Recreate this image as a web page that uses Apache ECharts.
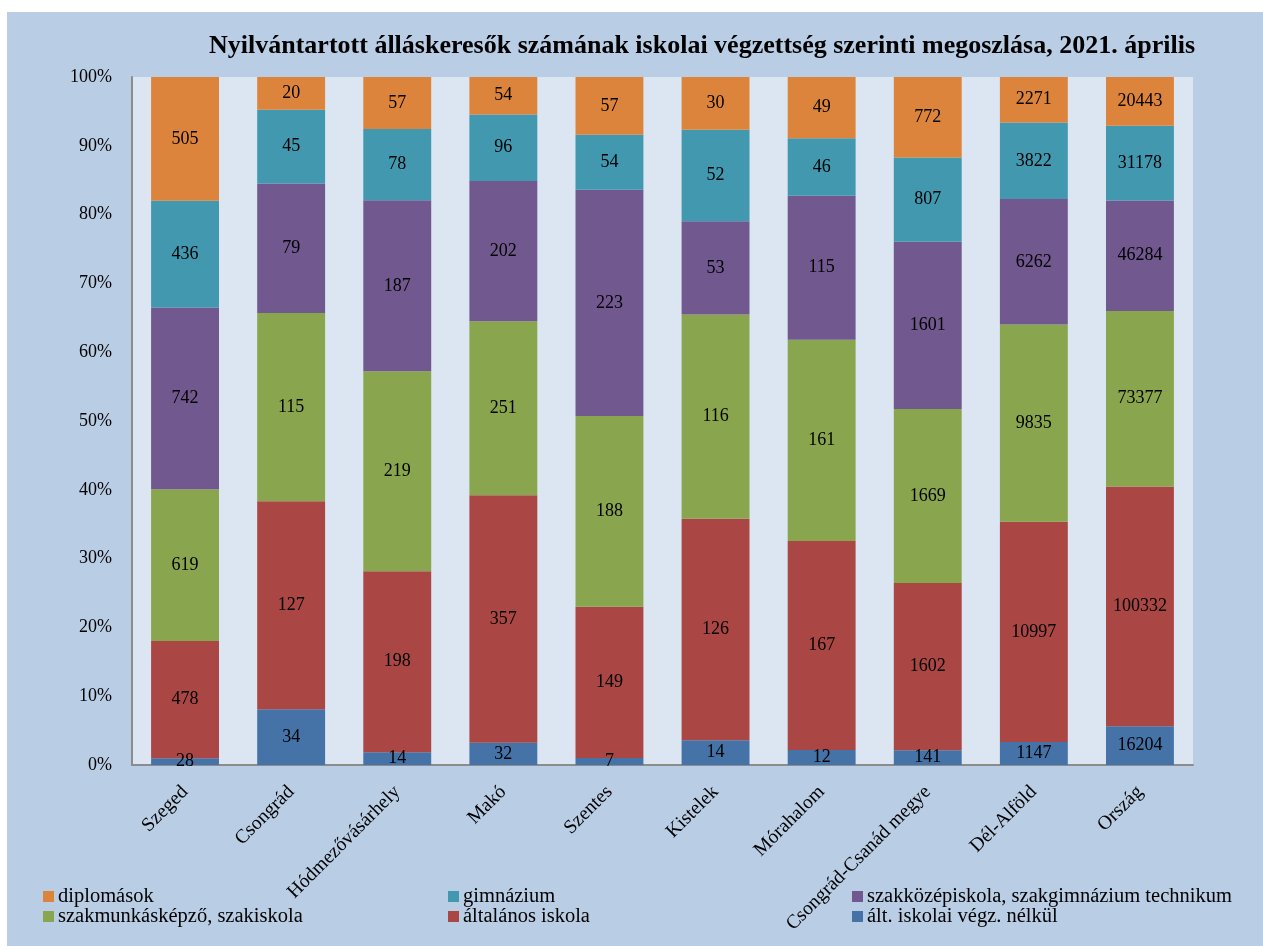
<!DOCTYPE html>
<html><head><meta charset="utf-8">
<script src="https://cdn.jsdelivr.net/npm/echarts@6/dist/echarts.min.js"></script>
<style>html,body{margin:0;padding:0;background:#fff}#c{width:1263px;height:946px}</style>
</head><body><div id="c"></div>
<script>
const categories = ["Szeged","Csongrád","Hódmezővásárhely","Makó","Szentes","Kistelek","Mórahalom","Csongrád-Csanád megye","Dél-Alföld","Ország"];
const altNelkul = [28,34,14,32,7,14,12,141,1147,16204];
const altalanos = [478,127,198,357,149,126,167,1602,10997,100332];
const szakmunkas = [619,115,219,251,188,116,161,1669,9835,73377];
const szakkozep = [742,79,187,202,223,53,115,1601,6262,46284];
const gimnazium = [436,45,78,96,54,52,46,807,3822,31178];
const diplomasok = [505,20,57,54,57,30,49,772,2271,20443];
const seriesNames = ["ált. iskolai végz. nélkül","általános iskola","szakmunkásképző, szakiskola","szakközépiskola, szakgimnázium technikum","gimnázium","diplomások"];
const seriesColors = ["#4572a7","#aa4644","#89a54e","#71588f","#4198af","#dd843c"];
const yTicks = [0,10,20,30,40,50,60,70,80,90,100];

const raw = [altNelkul, altalanos, szakmunkas, szakkozep, gimnazium, diplomasok];
const totals = categories.map((_, i) => raw.reduce((s, a) => s + a[i], 0));
const FONT = "Liberation Serif";

const series = raw.map((arr, k) => ({
  name: seriesNames[k], type: 'bar', stack: 'all', barWidth: '64%',
  itemStyle: { color: seriesColors[k] },
  data: arr.map((v, i) => ({ value: v / totals[i] * 100, raw: v })),
  label: { show: true, position: 'inside', color: '#000', fontFamily: FONT, fontSize: 18,
    formatter: p => String(p.data.raw) }
}));

// legend layout: 3 columns x 2 rows
const legendOrder = [5,4,3,2,1,0];
const colX = [43, 448, 852], rowY = [886, 906];
const legends = legendOrder.map((k, j) => ({
  data: [seriesNames[k]], left: colX[j % 3] - 5, top: rowY[Math.floor(j / 3)] - 5,
  itemWidth: 11, itemHeight: 11, itemGap: 4, icon: 'rect', selectedMode: false,
  textStyle: { fontFamily: FONT, fontSize: 20.5, color: '#000', padding: [0,0,0,-1] }
}));

const chart = echarts.init(document.getElementById('c'), null, { renderer: 'canvas' });
chart.setOption({
  animation: false,
  backgroundColor: '#ffffff',
  graphic: [{ type: 'rect', z: -10, shape: { x: 7, y: 12, width: 1256, height: 934 }, style: { fill: '#b9cde5' } }],
  title: { text: 'Nyilvántartott álláskeresők számának iskolai végzettség szerinti megoszlása, 2021. április',
    right: 63, top: 28, textStyle: { fontFamily: FONT, fontWeight: 'bold', fontSize: 26, color: '#000' } },
  legend: legends,
  grid: { left: 132, right: 70, top: 77, bottom: 181, backgroundColor: '#dce6f2', show: true, borderWidth: 0 },
  xAxis: { type: 'category', data: categories,
    axisLine: { show: true, lineStyle: { color: '#8c8c8c', width: 2 } }, axisTick: { show: false },
    axisLabel: { rotate: 45, interval: 0, fontFamily: FONT, fontSize: 19.5, color: '#000', margin: 24 } },
  yAxis: { type: 'value', min: yTicks[0], max: yTicks[yTicks.length - 1], interval: 10,
    axisLine: { show: true, lineStyle: { color: '#8c8c8c', width: 2 } }, axisTick: { show: false },
    splitLine: { show: false },
    axisLabel: { formatter: '{value}%', fontFamily: FONT, fontSize: 18, color: '#000', margin: 20 } },
  series: series
});
</script></body></html>
